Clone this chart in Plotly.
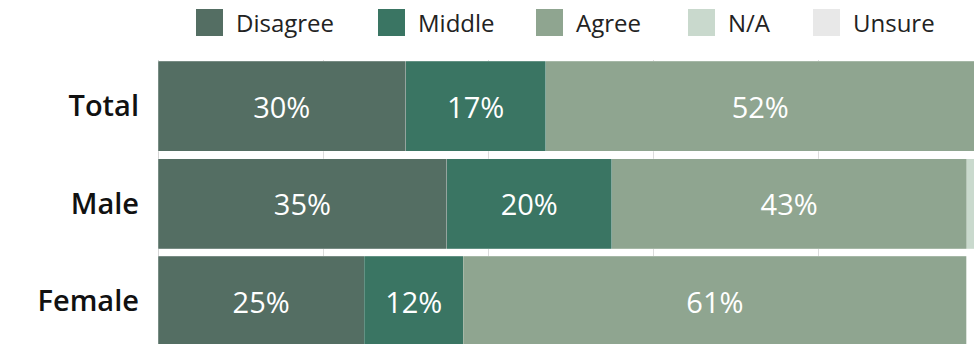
import plotly.graph_objects as go

# Survey responses by group (percent of respondents)
groups = ["Total", "Male", "Female"]
disagree = [30, 35, 25]
middle = [17, 20, 12]
agree = [52, 43, 61]
not_applicable = [0, 1, 0]
unsure = [0, 0, 0]

series_names = ["Disagree", "Middle", "Agree", "N/A", "Unsure"]
series_values = [disagree, middle, agree, not_applicable, unsure]
series_colors = ["#546e63", "#3a7563", "#8fa590", "#c9d9cd", "#e8e8e8"]

W, H = 974, 344
ML, MT = 158, 60
PW, PH = W - ML, H - MT
PX_PER_PCT = 8.25
ROW_PX = 97.5

fig = go.Figure()
for name, vals, col in zip(series_names, series_values, series_colors):
    fig.add_trace(go.Bar(
        name=name,
        y=groups,
        x=vals,
        orientation="h",
        marker=dict(color=col, line=dict(color="rgba(255,255,255,0.35)", width=0.6)),
        text=[f"{v}%" if v >= 5 else "" for v in vals],
        textposition="inside",
        insidetextanchor="middle",
        textfont=dict(family="Open Sans", size=29, color="white"),
        constraintext="none",
        showlegend=False,
        hoverinfo="skip",
    ))


def px_x(p):
    return (p - ML) / PW


def px_y(p):
    return 1 - (p - MT) / PH


# Legend: swatch + label per series
legend_x = [196, 378, 536, 688, 813]
shapes = []
annotations = []
for name, col, lx in zip(series_names, series_colors, legend_x):
    shapes.append(dict(
        type="rect", xref="paper", yref="paper",
        x0=px_x(lx), x1=px_x(lx + 27), y0=px_y(36), y1=px_y(9),
        fillcolor=col, line=dict(width=0),
    ))
    annotations.append(dict(
        xref="paper", yref="paper", x=px_x(lx + 38), y=px_y(22.5),
        text=name, showarrow=False, xanchor="left", yanchor="middle",
        font=dict(family="Open Sans", size=24, color="#222222"),
    ))

fig.update_layout(
    width=W, height=H,
    margin=dict(l=ML, r=0, t=MT, b=0),
    paper_bgcolor="white", plot_bgcolor="white",
    barmode="stack",
    bargap=0.077,
    shapes=shapes,
    annotations=annotations,
    uniformtext=dict(mode="show", minsize=10),
    xaxis=dict(
        range=[0, PW / PX_PER_PCT], dtick=20, showgrid=True, gridcolor="#dcdcdc",
        gridwidth=1, zeroline=True, zerolinecolor="#d4d4d4", zerolinewidth=1,
        showticklabels=False, fixedrange=True,
    ),
    yaxis=dict(
        range=[2 + (H - 301) / ROW_PX, -(106 - MT) / ROW_PX],
        showgrid=False, zeroline=False, ticks="",
        ticklabelstandoff=18,
        tickfont=dict(family="Open Sans", size=29, color="#111111", weight=600),
        fixedrange=True,
    ),
)

fig.write_html("out.html")
